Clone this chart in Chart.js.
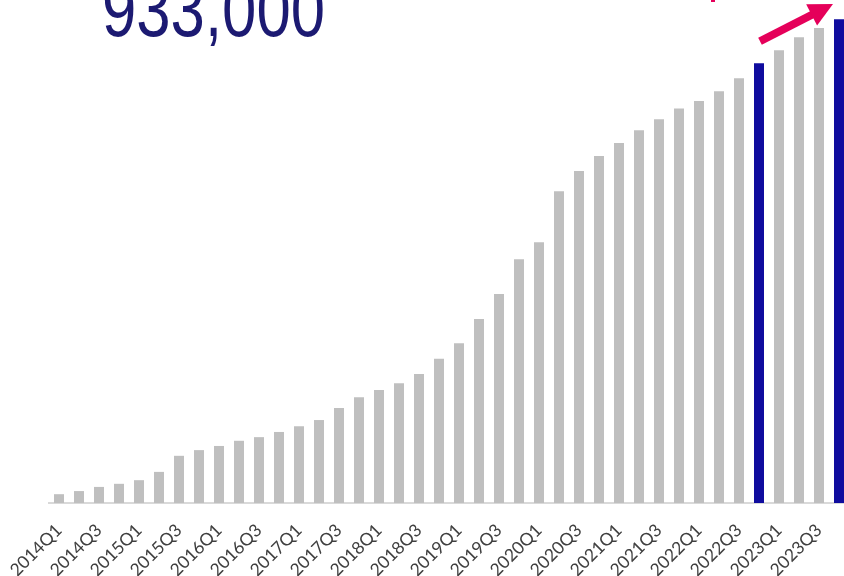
<!DOCTYPE html>
<html>
<head>
<meta charset="utf-8">
<script src="https://cdn.jsdelivr.net/npm/chart.js@4.4.1/dist/chart.umd.min.js"></script>
<style>
  html, body { margin: 0; padding: 0; background: #fff; overflow: hidden; }
  #wrap { position: relative; width: 860px; height: 576px; }
  #total {
    position: absolute; left: 102px; top: -29px;
    font-family: "Liberation Sans Narrow", "Liberation Sans", Arial, sans-serif;
    font-size: 77px; line-height: 77px; color: #1c1a72; white-space: nowrap;
    transform-origin: 0 0;
  }
</style>
</head>
<body>
<div id="wrap">
  <canvas id="grafico"></canvas>
  <div id="total">933,000</div>
</div>
<script>
// trimestres 2014Q1 .. 2023Q4
const quarters = [
  '2014Q1','2014Q2','2014Q3','2014Q4','2015Q1','2015Q2','2015Q3','2015Q4',
  '2016Q1','2016Q2','2016Q3','2016Q4','2017Q1','2017Q2','2017Q3','2017Q4',
  '2018Q1','2018Q2','2018Q3','2018Q4','2019Q1','2019Q2','2019Q3','2019Q4',
  '2020Q1','2020Q2','2020Q3','2020Q4','2021Q1','2021Q2','2021Q3','2021Q4',
  '2022Q1','2022Q2','2022Q3','2022Q4','2023Q1','2023Q2','2023Q3','2023Q4'
];

// acumulado, en miles
const totals = [
  17, 23, 31, 37, 44, 60, 91, 102,
  110, 120, 127, 137, 148, 160, 183, 204,
  218, 231, 249, 278, 308, 355, 403, 470,
  503, 601, 640, 669, 694, 719, 740, 761,
  775, 794, 819, 848, 873, 898, 916, 933
];

// los Q4 de 2022 y 2023 van resaltados
const highlighted = ['2022Q4', '2023Q4'];

const GRIS = '#bfbfbf';
const AZUL = '#0f0c9e';
const ROSA = '#e5005a';

// el total va en letra angosta: si no hay fuente narrow, se comprime a lo ancho
const total = document.getElementById('total');
const anchoTotal = 223;
total.style.transform = `scaleX(${anchoTotal / total.getBoundingClientRect().width})`;

// flecha de crecimiento sobre las ultimas barras
const flecha = {
  id: 'flecha',
  afterDraw(chart) {
    const { ctx } = chart;
    const meta = chart.getDatasetMeta(0);
    const desde = meta.data[quarters.indexOf('2022Q4')];
    const hasta = meta.data[quarters.indexOf('2023Q4')];
    const x0 = desde.x + 1, y0 = desde.y - 22;
    const tipX = hasta.x - 6, tipY = 4;
    const ang = Math.atan2(tipY - y0, tipX - x0);
    const headLen = 24, headW = 12;
    const bx = tipX - headLen * Math.cos(ang), by = tipY - headLen * Math.sin(ang);
    ctx.save();
    ctx.strokeStyle = ROSA;
    ctx.fillStyle = ROSA;
    ctx.lineWidth = 8;
    ctx.lineCap = 'butt';
    ctx.beginPath();
    ctx.moveTo(x0, y0);
    ctx.lineTo(bx + 2 * Math.cos(ang), by + 2 * Math.sin(ang));
    ctx.stroke();
    ctx.beginPath();
    ctx.moveTo(tipX, tipY);
    ctx.lineTo(bx + headW * Math.sin(ang), by - headW * Math.cos(ang));
    ctx.lineTo(bx - headW * Math.sin(ang), by + headW * Math.cos(ang));
    ctx.closePath();
    ctx.fill();
    // resto de otra flecha, cortada por el borde
    ctx.fillRect(711, 0, 4, 2);
    ctx.restore();
  }
};

new Chart(document.getElementById('grafico'), {
  type: 'bar',
  data: {
    labels: quarters,
    datasets: [{
      data: totals,
      backgroundColor: quarters.map(q => highlighted.includes(q) ? AZUL : GRIS),
      borderWidth: 0,
      categoryPercentage: 1,
      barPercentage: 0.5
    }]
  },
  options: {
    responsive: true,
    maintainAspectRatio: false,
    animation: false,
    layout: { padding: { left: 49, right: 11, top: 0, bottom: 0 } },
    plugins: { legend: { display: false }, tooltip: { enabled: false } },
    scales: {
      y: { display: false, min: 0, max: 970 },
      x: {
        grid: { display: false, drawTicks: false },
        border: { color: '#d9d9d9', width: 2 },
        ticks: {
          autoSkip: false,
          maxRotation: 45,
          minRotation: 45,
          padding: 17,
          color: '#404040',
          font: { family: 'Lato, "Open Sans", sans-serif', size: 17.5 },
          callback: (v, i) => i % 2 === 0 ? quarters[i] : ''
        },
        afterFit: (scale) => {
          scale.height = 73;
          scale.paddingLeft = 0;
          scale.paddingRight = 0;
        }
      }
    }
  },
  plugins: [flecha]
});
</script>
</body>
</html>
